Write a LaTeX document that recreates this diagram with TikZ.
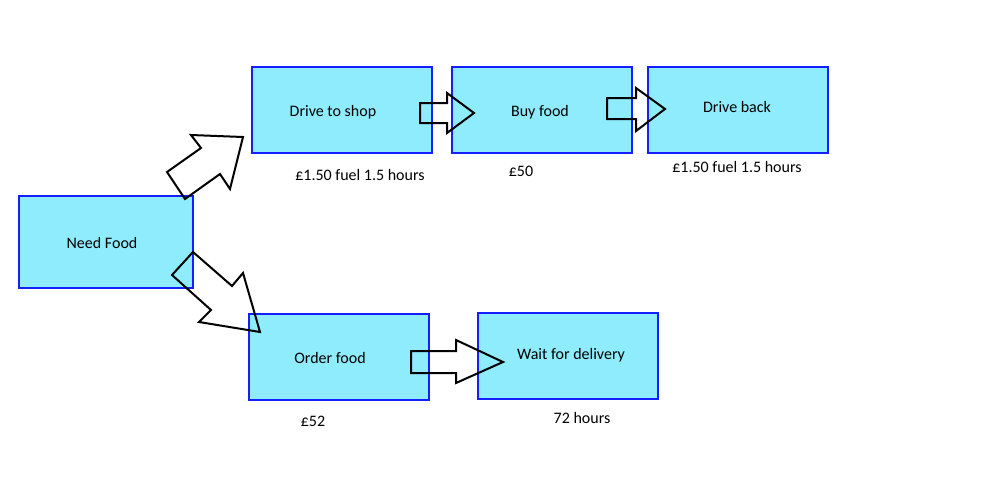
\documentclass[tikz,border=0pt]{standalone}
\usepackage{fontspec}
\setmainfont{Carlito}
\usepackage{tikz}
\usetikzlibrary{positioning}
\definecolor{boxcyan}{RGB}{142,236,252}
\definecolor{boxblue}{RGB}{20,30,255}

\begin{document}
\begin{tikzpicture}[
    x=0.75pt, y=-0.75pt,
    box/.style={draw=boxblue, fill=boxcyan, line width=0.9pt, minimum width=135pt, minimum height=64.5pt, inner sep=0pt},
    note/.style={inner sep=0pt, font=\fontsize{12}{14}\selectfont},
    blockarrow/.style={draw=black, line width=1.5pt, line join=miter}
]
\useasboundingbox (0,0) rectangle (1000,500);

% boxes
\node[box, minimum width=130.5pt, minimum height=69pt,
    label={[note, xshift=-3pt, yshift=-0.75pt]center:Need Food}] (need) at (106,242) {};
\node[box, label={[note, xshift=-6.75pt, yshift=-1.5pt]center:Drive to shop}] (shop) at (342,110) {};
\node[box, label={[note, xshift=-1.5pt, yshift=-1.5pt]center:Buy food}] (buy) at (542,110) {};
\node[box, label={[note, xshift=-0.75pt, yshift=2.25pt]center:Drive back}] (back) at (738,110) {};
\node[box, label={[note, xshift=-6.75pt, yshift=-0.75pt]center:Order food}] (order) at (339,357) {};
\node[box, label={[note, xshift=2.25pt, yshift=0.75pt]center:Wait for delivery}] (wait) at (568,356) {};

% costs and times
\node[note] (shopcost) at (360,175) {£1.50 fuel 1.5 hours};
\node[note] (buycost) at (521,171) {£50};
\node[note] (backcost) at (737,167) {£1.50 fuel 1.5 hours};
\node[note] (ordercost) at (313,421) {£52};
\node[note] (waittime) at (582,418) {72 hours};

% block arrows
\draw[blockarrow] (243,137) -- (191,135) -- (201,148) -- (167,172) -- (185,199)
    -- (220,174) -- (230,189) -- cycle;
\draw[blockarrow] (193,252) -- (172,275) -- (211,310) -- (199,322) -- (260,332)
    -- (243,273) -- (232,286) -- cycle;
\draw[blockarrow] (420,103) -- (447,103) -- (447,93) -- (474,113) -- (447,133)
    -- (447,123) -- (420,123) -- cycle;
\draw[blockarrow] (607,98) -- (636,98) -- (636,88) -- (665,109) -- (636,131)
    -- (636,119) -- (607,119) -- cycle;
\draw[blockarrow] (411,351) -- (456,351) -- (456,340) -- (503,362) -- (456,383)
    -- (456,373) -- (411,373) -- cycle;

\end{tikzpicture}
\end{document}
